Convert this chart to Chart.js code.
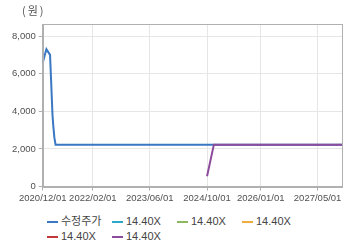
<!DOCTYPE html>
<html>
<head>
<meta charset="utf-8">
<script src="https://cdn.jsdelivr.net/npm/chart.js@4/dist/chart.umd.min.js"></script>
<style>
  html, body { margin: 0; padding: 0; background: #fff; }
  #wrap { position: relative; width: 360px; height: 248px; font-family: 'Liberation Sans', Arial, sans-serif; }
  #box { position: absolute; left: 0; top: 0; width: 360px; height: 206px; }
  #unit { position: absolute; left: 22px; top: 2px; font: 11px 'Noto Sans CJK KR', sans-serif; color: #555; letter-spacing: 2px; }
  #legend { position: absolute; left: 47px; top: 213px; width: 300px; font-size: 11px; color: #444; }
  .item { display: inline-block; width: 65px; height: 15px; line-height: 15px; white-space: nowrap; }
  .item i { display: inline-block; width: 11px; height: 2px; vertical-align: middle; margin-right: 3px; }
  .item span.ko { font-family: 'Noto Sans CJK KR', sans-serif; }
</style>
</head>
<body>
<div id="wrap">
  <div id="box"><canvas id="c"></canvas></div>
  <div id="unit">(원)</div>
  <div id="legend"></div>
</div>
<script>
// series names + colours (legend order)
const SERIES_LABELS = ['수정주가', '14.40X', '14.40X', '14.40X', '14.40X', '14.40X'];
const SERIES_COLORS = ['#3a78c3', '#2aa7c9', '#8cb862', '#efad3f', '#c3363a', '#8d4b9c'];

// adjusted price
const PRICE_DATES  = ['2020-12-01', '2021-01-01', '2021-02-01', '2021-02-22', '2021-03-01', '2021-03-10', '2021-03-20', '2027-11-25'];
const PRICE_VALUES = [6600, 7300, 7000, 3800, 3200, 2600, 2230, 2230];

// 14.40X band (only the last one has values)
const BAND_DATES  = ['2024-10-01', '2024-11-28', '2027-11-25'];
const BAND_VALUES = [550, 2230, 2230];

const X_TICKS = ['2020/12/01', '2022/02/01', '2023/06/01', '2024/10/01', '2026/01/01', '2027/05/01'];
const Y_TICKS = [0, 2000, 4000, 6000, 8000];
const X_MIN = '2020-12-01', X_MAX = '2027-11-25';
const Y_MAX = 8640;

const ts = s => Date.parse(s.replace(/\//g, '-') + 'T00:00:00Z');
const pad = n => String(n).padStart(2, '0');
const fmtDate = v => { const d = new Date(v); return d.getUTCFullYear() + '/' + pad(d.getUTCMonth() + 1) + '/' + pad(d.getUTCDate()); };
const toPoints = (dates, vals) => dates.map((d, i) => ({ x: ts(d), y: vals[i] }));

const seriesData = [toPoints(PRICE_DATES, PRICE_VALUES), [], [], [], [], toPoints(BAND_DATES, BAND_VALUES)];

// frame around the plot area
const frame = {
  id: 'frame',
  afterDraw(chart) {
    const { ctx, chartArea: a } = chart;
    ctx.save();
    ctx.strokeStyle = '#b0b0b0';
    ctx.lineWidth = 1;
    ctx.strokeRect(Math.round(a.left) + 0.5, Math.round(a.top) + 0.5, Math.round(a.right - a.left), Math.round(a.bottom - a.top));
    ctx.restore();
  }
};

const TICK_FONT = { family: "'Liberation Sans', Arial, sans-serif", size: 9.5 };

new Chart(document.getElementById('c'), {
  type: 'line',
  data: {
    datasets: SERIES_LABELS.map((label, i) => ({
      label,
      data: seriesData[i],
      borderColor: SERIES_COLORS[i],
      backgroundColor: SERIES_COLORS[i],
      borderWidth: 2,
      pointRadius: 0,
      tension: 0,
      fill: false,
      order: i === 5 ? 0 : 1
    }))
  },
  options: {
    responsive: true,
    maintainAspectRatio: false,
    animation: false,
    layout: { padding: { left: 9, right: 18, top: 24, bottom: 0 } },
    plugins: { legend: { display: false }, tooltip: { enabled: false } },
    scales: {
      x: {
        type: 'linear',
        min: ts(X_MIN),
        max: ts(X_MAX),
        afterBuildTicks: axis => { axis.ticks = X_TICKS.map(t => ({ value: ts(t) })); },
        grid: { color: '#e6e6e6', tickLength: 4, tickColor: '#b0b0b0' },
        border: { color: '#b0b0b0' },
        ticks: { font: TICK_FONT, color: '#505050', padding: 2, maxRotation: 0, autoSkip: false, callback: v => fmtDate(v) }
      },
      y: {
        min: 0,
        max: Y_MAX,
        afterBuildTicks: axis => { axis.ticks = Y_TICKS.map(v => ({ value: v })); },
        grid: { color: '#e6e6e6', tickLength: 4, tickColor: '#b0b0b0' },
        border: { color: '#b0b0b0' },
        ticks: { font: TICK_FONT, color: '#505050', padding: 3, callback: v => v.toLocaleString('en-US') }
      }
    }
  },
  plugins: [frame]
});

// legend below the canvas
document.getElementById('legend').innerHTML = SERIES_LABELS.map((label, i) =>
  `<div class="item"><i style="background:${SERIES_COLORS[i]}"></i><span class="${i === 0 ? 'ko' : ''}">${label}</span></div>`
).join('');
</script>
</body>
</html>
